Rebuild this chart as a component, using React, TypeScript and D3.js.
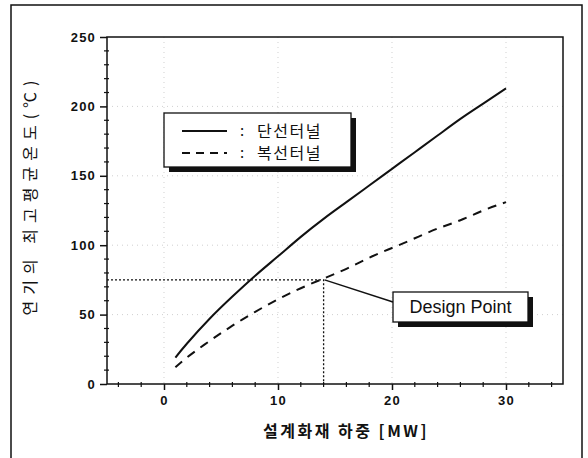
import React, { useEffect, useRef } from "react";
import * as d3 from "d3";

// heat release rate [MW]
const loads = [1, 2, 4, 6, 8, 10, 12, 14, 16, 18, 20, 22, 24, 26, 28, 30];
// single-bore tunnel (solid)
const singleTunnel = [19, 29, 47, 63, 78, 92, 106, 119, 131, 143, 155, 167, 179, 191, 202, 213];
// twin-bore tunnel (dashed)
const twinTunnel = [12, 19, 31, 42, 52, 61, 69, 76, 83, 91, 98, 105, 112, 118, 125, 131];
const xTicks = [0, 10, 20, 30];
const yTicks = [0, 50, 100, 150, 200, 250];
const designPoint = { x: 14, y: 75 };
const legendLabels = ["단선터널", "복선터널"];

const W = 588;
const H = 458;
const KR = "'Noto Sans CJK KR', 'Noto Sans', sans-serif";
const LAT = "'Liberation Sans', Arial, sans-serif";

const App = () => {
  const ref = useRef(null);

  useEffect(() => {
    if (!ref.current) return;
    const svg = d3.select(ref.current);
    svg.selectAll("*").remove();

    const left = 107, right = 563, top = 37, bottom = 384;
    const x = d3.scaleLinear().domain([-5, 35]).range([left, right]);
    const y = d3.scaleLinear().domain([0, 250]).range([bottom, top]);

    // outer frame
    svg.append("rect")
      .attr("x", 11).attr("y", 5).attr("width", 571).attr("height", 470)
      .attr("fill", "none").attr("stroke", "#111").attr("stroke-width", 1.5);

    // light grid
    const grid = svg.append("g").attr("stroke", "#bbb").attr("stroke-width", 0.7)
      .attr("stroke-dasharray", "1,4");
    xTicks.forEach(t => grid.append("line")
      .attr("x1", x(t)).attr("x2", x(t)).attr("y1", top).attr("y2", bottom));
    yTicks.slice(1, -1).forEach(t => grid.append("line")
      .attr("x1", left).attr("x2", right).attr("y1", y(t)).attr("y2", y(t)));

    // plot box
    svg.append("rect")
      .attr("x", left).attr("y", top).attr("width", right - left).attr("height", bottom - top)
      .attr("fill", "none").attr("stroke", "#111").attr("stroke-width", 1.5);

    // axes
    const xAxis = d3.axisBottom(x).tickValues(xTicks).tickSize(6).tickPadding(6)
      .tickFormat(d3.format("d"));
    const gx = svg.append("g").attr("transform", `translate(0,${bottom})`).call(xAxis);
    const yAxis = d3.axisLeft(y).tickValues(yTicks).tickSize(7).tickPadding(4);
    const gy = svg.append("g").attr("transform", `translate(${left},0)`).call(yAxis);
    [gx, gy].forEach(g => {
      g.select(".domain").remove();
      g.selectAll("line").attr("stroke", "#111").attr("stroke-width", 1.5);
      g.selectAll("text").attr("font-family", LAT).attr("font-weight", "bold")
        .attr("font-size", 13).attr("letter-spacing", 1.2).attr("fill", "#111");
    });

    // minor ticks
    d3.range(-4, 35, 2).filter(v => v % 10 !== 0).forEach(v => {
      svg.append("line").attr("x1", x(v)).attr("x2", x(v))
        .attr("y1", bottom - 2).attr("y2", bottom + 3).attr("stroke", "#111").attr("stroke-width", 1.2);
    });
    d3.range(10, 250, 10).filter(v => v % 50 !== 0).forEach(v => {
      svg.append("line").attr("x1", left - 3).attr("x2", left + 2)
        .attr("y1", y(v)).attr("y2", y(v)).attr("stroke", "#111").attr("stroke-width", 1.2);
    });

    // design point guide lines
    svg.append("path")
      .attr("d", `M${x(-5)},${y(designPoint.y)}H${x(designPoint.x)}V${y(0)}`)
      .attr("fill", "none").attr("stroke", "#111").attr("stroke-width", 1.3)
      .attr("stroke-dasharray", "2,2");

    // curves
    const line = d3.line<number>().x((_, i) => x(loads[i])).y(d => y(d)).curve(d3.curveNatural);
    svg.append("path").attr("d", line(singleTunnel)).attr("fill", "none")
      .attr("stroke", "#111").attr("stroke-width", 2);
    svg.append("path").attr("d", line(twinTunnel)).attr("fill", "none")
      .attr("stroke", "#111").attr("stroke-width", 2).attr("stroke-dasharray", "9,7");

    // legend
    const lg = svg.append("g");
    lg.append("rect").attr("x", 169).attr("y", 118).attr("width", 187).attr("height", 54).attr("fill", "#111");
    lg.append("rect").attr("x", 164).attr("y", 113).attr("width", 187).attr("height", 54)
      .attr("fill", "#fff").attr("stroke", "#111").attr("stroke-width", 1.3);
    [0, 1].forEach(i => {
      const ly = 131 + i * 22;
      lg.append("line").attr("x1", 182).attr("x2", 227).attr("y1", ly).attr("y2", ly)
        .attr("stroke", "#111").attr("stroke-width", 2)
        .attr("stroke-dasharray", i === 1 ? "8,6" : null);
      lg.append("text").attr("x", 240).attr("y", ly + 5).attr("font-family", KR)
        .attr("font-size", 15).attr("fill", "#111").text(":");
      lg.append("text").attr("x", 257).attr("y", ly + 6).attr("font-family", KR)
        .attr("font-size", 16).attr("letter-spacing", 1.5).attr("fill", "#111").text(legendLabels[i]);
    });

    // design point callout
    const bx = 393, by = 292, bw = 135, bh = 30;
    svg.append("line").attr("x1", x(designPoint.x) + 1).attr("y1", y(designPoint.y))
      .attr("x2", bx).attr("y2", by + 10).attr("stroke", "#111").attr("stroke-width", 1.5);
    svg.append("rect").attr("x", bx + 5).attr("y", by + 5).attr("width", bw).attr("height", bh).attr("fill", "#111");
    svg.append("rect").attr("x", bx).attr("y", by).attr("width", bw).attr("height", bh)
      .attr("fill", "#fff").attr("stroke", "#111").attr("stroke-width", 1.3);
    svg.append("text").attr("x", bx + bw / 2).attr("y", by + 21).attr("text-anchor", "middle")
      .attr("font-family", LAT).attr("font-size", 18).attr("fill", "#111").text("Design Point");

    // axis titles
    svg.append("text").attr("x", 346).attr("y", 437).attr("text-anchor", "middle")
      .attr("font-family", KR).attr("font-size", 16).attr("font-weight", "bold")
      .attr("letter-spacing", 2.5).attr("fill", "#111").text("설계화재 하중 [MW]");
    svg.append("text").attr("transform", "translate(36,195) rotate(-90)").attr("text-anchor", "middle")
      .attr("font-family", KR).attr("font-size", 16).attr("letter-spacing", 6)
      .attr("fill", "#111").text("연기의 최고평균온도(℃)");
  }, []);

  return (
    <svg ref={ref} width={W} height={H}
      style={{ position: "absolute", left: 0, top: 0, background: "#fff" }} />
  );
};

export default App;
